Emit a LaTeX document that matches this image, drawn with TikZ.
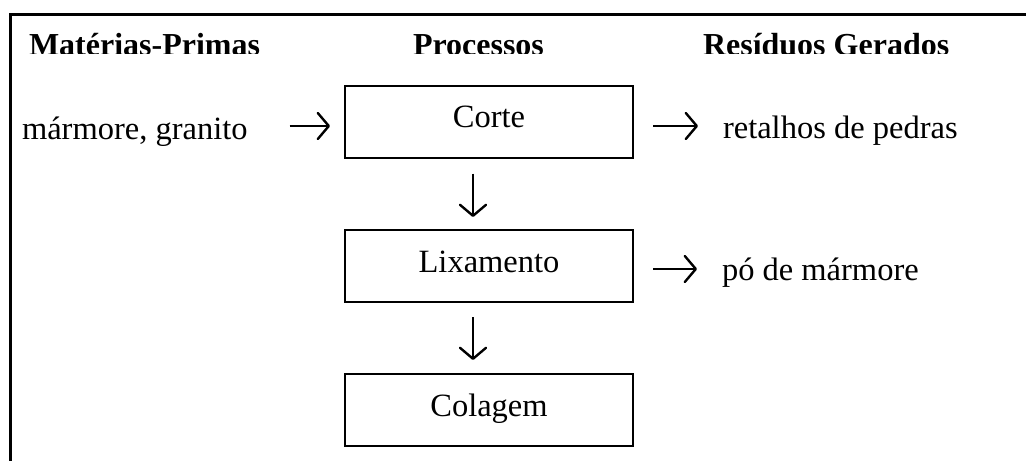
\documentclass[tikz,border=0pt]{standalone}
\usepackage{fontspec}
\setmainfont{Liberation Serif}
\usetikzlibrary{arrows.meta,calc}
\begin{document}
\begin{tikzpicture}[x=1pt,y=-1pt,
  every node/.style={inner sep=0pt,outer sep=0pt,font=\fontsize{32.5}{38}\selectfont},
  procbox/.style={draw,line width=2pt,minimum width=288pt,minimum height=72pt,text height=22pt,text depth=10pt},
  hdr/.style={anchor=base west,font=\fontsize{32}{38}\selectfont\bfseries},
  side/.style={anchor=base west},
  arr/.style={line width=2.2pt,-{Straight Barb[length=11pt,width=26pt,line width=2.4pt,round]}},
  frame/.style={line width=3pt}]
\useasboundingbox (0,0) rectangle (1026,461);
% frame
\coordinate (tr) at (1026,14);
\coordinate (tl) at (10,14);
\coordinate (bl) at (10,461);
\draw[frame] (tr) -- (tl) -- (bl);
% headers (clipped at the bottom as in the reference)
\begin{scope}
\clip (12,16) rectangle (1026,53);
\node[hdr] (h1) at (29,55) {Matérias-Primas};
\node[hdr] (h2) at (413,55) {Processos};
\node[hdr] (h3) at (703,55) {Resíduos Gerados};
\end{scope}
% process boxes
\node[procbox] (corte) at (489,121.5) {Corte};
\node[procbox] (lix) at (489,266) {Lixamento};
\node[procbox] (col) at (489,410) {Colagem};
% side texts
\node[side] (mat) at (22,139) {mármore, granito};
\node[side] (ret) at (723,138) {retalhos de pedras};
\node[side] (po) at (722,280) {pó de mármore};
% arrows
\draw[arr,shorten <=42pt,shorten >=15pt] ([yshift=-4.5pt]corte.west -| mat.east) -- ([yshift=-4.5pt]corte.west);
\draw[arr,shorten <=20pt,shorten >=25pt] ([yshift=-4.5pt]corte.east) -- ([yshift=-4.5pt]corte.east -| ret.west);
\draw[arr,shorten <=20pt,shorten >=25pt] ([yshift=-3pt]lix.east) -- ([yshift=-3pt]lix.east -| po.west);
\draw[arr,shorten <=16pt,shorten >=13pt] ([xshift=-16pt]corte.south) -- ([xshift=-16pt]lix.north);
\draw[arr,shorten <=15pt,shorten >=14pt] ([xshift=-16pt]lix.south) -- ([xshift=-16pt]col.north);
\end{tikzpicture}
\end{document}
